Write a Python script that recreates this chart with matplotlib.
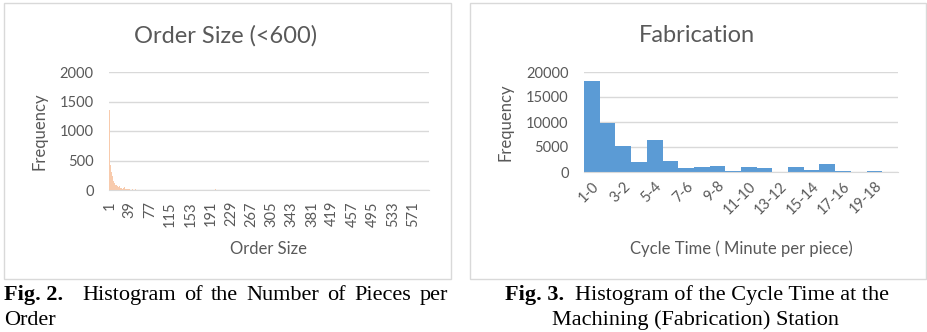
import numpy as np
import matplotlib
matplotlib.use('Agg')
import matplotlib.pyplot as plt
from matplotlib.patches import Rectangle

# ---- data: order size histogram (sizes with non-zero counts)
order_sizes = [1, 2, 3, 4, 5, 6, 7, 8, 9, 10, 11, 12, 13, 14, 15, 16, 17, 18, 19, 20,
               21, 22, 23, 24, 25, 26, 27, 28, 29, 30, 31, 32, 33, 34, 35, 36, 37, 38, 39, 40,
               41, 42, 43, 44, 45, 48, 50, 55, 60, 72, 100, 200]
order_counts = [1350, 480, 420, 380, 300, 260, 230, 200, 160, 180, 120, 110, 90, 100, 80, 60, 70, 55, 45, 60,
                40, 35, 30, 40, 50, 25, 20, 30, 20, 45, 15, 15, 12, 10, 20, 60, 10, 8, 10, 25,
                6, 5, 4, 10, 20, 8, 15, 6, 8, 4, 5, 20]
n_sizes = 600

# ---- data: fabrication cycle time histogram
cycle_bins = ['1-0', '2-1', '3-2', '4-3', '5-4', '6-5', '7-6', '8-7', '9-8', '10-9',
              '11-10', '12-11', '13-12', '14-13', '15-14', '16-15', '17-16', '18-17', '19-18', '20-19']
cycle_counts = [18200, 9800, 5300, 2100, 6500, 2150, 850, 1000, 1150, 200,
                1050, 800, 50, 1000, 350, 1550, 150, 50, 120, 30]

W, H = 928, 332
fig = plt.figure(figsize=(W/100., H/100.), dpi=100, facecolor='w')
chart_font = 'Lato'
grey = '#595959'
grid = '#D9D9D9'

def px(l, t, r, b):
	return [l/float(W), 1-b/float(H), (r-l)/float(W), (b-t)/float(H)]

def style(ax, yticks):
	for s in ['top', 'right', 'left']:
		ax.spines[s].set_visible(False)
	ax.spines['bottom'].set_color(grid)
	ax.set_yticks(yticks)
	ax.yaxis.grid(True, color=grid, linewidth=1)
	ax.set_axisbelow(True)
	ax.tick_params(axis='both', length=0, colors=grey, labelsize=10.5)
	ax.tick_params(axis='y', pad=11)
	for lab in ax.get_yticklabels():
		lab.set_fontfamily(chart_font)

# panel borders
fig.add_artist(Rectangle((4/float(W), 1-279/float(H)), 447/float(W), 276/float(H),
	transform=fig.transFigure, fill=False, edgecolor=grid, linewidth=1))
fig.add_artist(Rectangle((470/float(W), 1-279/float(H)), 456/float(W), 276/float(H),
	transform=fig.transFigure, fill=False, edgecolor=grid, linewidth=1))

# left chart
counts = np.zeros(n_sizes)
for s, c in zip(order_sizes, order_counts):
	counts[s-1] = c
ax1 = fig.add_axes(px(109, 72, 429, 190))
ax1.bar(np.arange(n_sizes), counts, width=1.0, color='#F8CBAD', linewidth=0)
ax1.set_xlim(-0.5, n_sizes-0.5)
ax1.set_ylim(0, 2000)
style(ax1, [0, 500, 1000, 1500, 2000])
tk = np.arange(0, n_sizes, 38)
ax1.set_xticks(tk)
ax1.set_xticklabels([str(t+1) for t in tk], rotation=90, fontfamily=chart_font)
ax1.tick_params(axis='x', pad=8)
ax1.set_ylabel('Frequency', fontfamily=chart_font, fontsize=12, color=grey, labelpad=9)
ax1.set_xlabel('Order Size', fontfamily=chart_font, fontsize=12, color=grey, labelpad=10)
fig.text(226/float(W), 1-36/float(H), 'Order Size (<600)', ha='center', va='center',
	fontfamily=chart_font, fontsize=17, color=grey)

# right chart
ax2 = fig.add_axes(px(584, 72, 898, 172))
x = np.arange(len(cycle_bins))
ax2.bar(x, cycle_counts, width=1.0, color='#5B9BD5', linewidth=0)
ax2.set_xlim(-0.5, len(cycle_bins)-0.5)
ax2.set_ylim(0, 20000)
style(ax2, [0, 5000, 10000, 15000, 20000])
ax2.set_xticks(x[::2])
ax2.set_xticklabels(cycle_bins[::2], rotation=45, ha='right', rotation_mode='anchor', fontfamily=chart_font)
ax2.tick_params(axis='x', pad=5)
ax2.set_ylabel('Frequency', fontfamily=chart_font, fontsize=12, color=grey, labelpad=9)
ax2.set_xlabel('Cycle Time ( Minute per piece)', fontfamily=chart_font, fontsize=12, color=grey, labelpad=17)
fig.text(697/float(W), 1-36/float(H), 'Fabrication', ha='center', va='center',
	fontfamily=chart_font, fontsize=17, color=grey)

# captions
cap = 'Liberation Serif'
cs = 16
fig.text(4/float(W), 1-300/float(H), 'Fig. 2.', fontfamily=cap, fontweight='bold', fontsize=cs, va='baseline')
# justified first line of the left caption
words = 'Histogram of the Number of Pieces per'.split()
r = fig.canvas.get_renderer()
objs = [fig.text(0, 1-300/float(H), w, fontfamily=cap, fontsize=cs, va='baseline') for w in words]
widths = [o.get_window_extent(r).width for o in objs]
x0, x1 = 82., 448.
gap = (x1 - x0 - sum(widths)) / (len(words) - 1)
xp = x0
for o, w in zip(objs, widths):
	o.set_x(xp/W)
	xp += w + gap
fig.text(4/float(W), 1-325/float(H), 'Order', fontfamily=cap, fontsize=cs, va='baseline')
fig.text(505/float(W), 1-300/float(H), 'Fig. 3.', fontfamily=cap, fontweight='bold', fontsize=cs, va='baseline')
fig.text(575/float(W), 1-300/float(H), 'Histogram of the Cycle Time at the', fontfamily=cap, fontsize=cs, va='baseline')
fig.text(696/float(W), 1-325/float(H), 'Machining (Fabrication) Station', fontfamily=cap, fontsize=cs, va='baseline', ha='center')

plt.savefig('out.png', dpi=100)
